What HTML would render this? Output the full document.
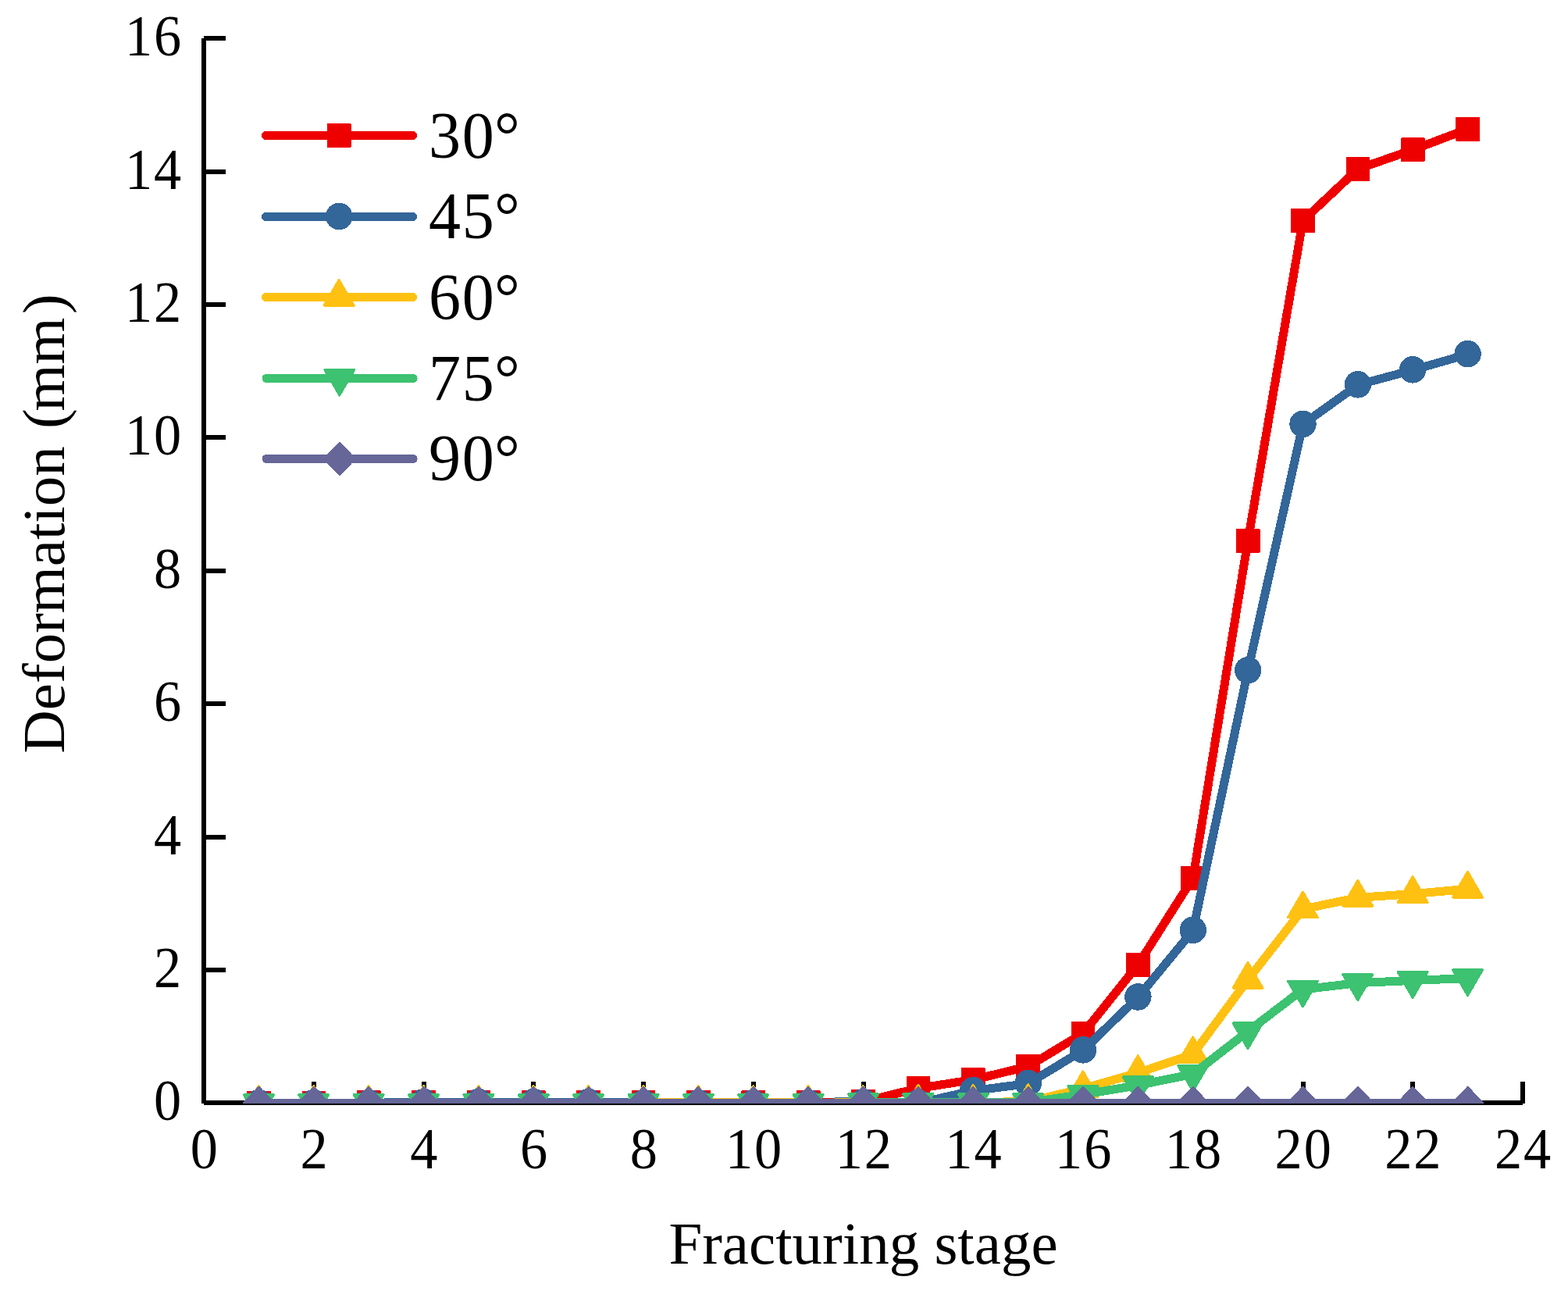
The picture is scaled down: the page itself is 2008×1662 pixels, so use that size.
<!DOCTYPE html>
<html lang="en">
<head>
<meta charset="utf-8">
<title>Deformation vs fracturing stage</title>
<style>
html,body{margin:0;padding:0;background:#fff;}
body{width:2008px;height:1662px;overflow:hidden;}
svg{display:block;}
text{font-family:"Liberation Serif",serif;fill:#000;}
.tick{font-size:74.1px;letter-spacing:1.950px;}
.title{font-size:77px;}
.leg{font-size:85.5px;letter-spacing:1.781px;}
.data{shape-rendering:crispEdges;}
</style>
</head>
<body>
<svg width="2008" height="1662" viewBox="0 0 2008 1662">
<rect x="0" y="0" width="2008" height="1662" fill="#ffffff"/>
<defs><clipPath id="plot"><rect x="258" y="40" width="1700" height="1373"/></clipPath></defs>

<g stroke="#000" stroke-width="6" fill="none" stroke-linecap="butt" shape-rendering="crispEdges">
<line x1="261" y1="49" x2="261" y2="1413"/>
<line x1="261" y1="1412" x2="1950" y2="1412"/>
<line x1="261" y1="1242" x2="289" y2="1242"/>
<line x1="261" y1="1072" x2="289" y2="1072"/>
<line x1="261" y1="901" x2="289" y2="901"/>
<line x1="261" y1="731" x2="289" y2="731"/>
<line x1="261" y1="560" x2="289" y2="560"/>
<line x1="261" y1="390" x2="289" y2="390"/>
<line x1="261" y1="220" x2="289" y2="220"/>
<line x1="261" y1="49" x2="289" y2="49"/>
<line x1="402" y1="1412" x2="402" y2="1385"/>
<line x1="543" y1="1412" x2="543" y2="1385"/>
<line x1="683" y1="1412" x2="683" y2="1385"/>
<line x1="824" y1="1412" x2="824" y2="1385"/>
<line x1="965" y1="1412" x2="965" y2="1385"/>
<line x1="1106" y1="1412" x2="1106" y2="1385"/>
<line x1="1246" y1="1412" x2="1246" y2="1385"/>
<line x1="1387" y1="1412" x2="1387" y2="1385"/>
<line x1="1528" y1="1412" x2="1528" y2="1385"/>
<line x1="1669" y1="1412" x2="1669" y2="1385"/>
<line x1="1809" y1="1412" x2="1809" y2="1385"/>
<line x1="1950" y1="1413" x2="1950" y2="1385"/>
</g>
<g class="tick" text-anchor="end">
<text transform="translate(234.0,1434.3) scale(0.95,1)">0</text>
<text transform="translate(234.0,1263.9) scale(0.95,1)">2</text>
<text transform="translate(234.0,1093.5) scale(0.95,1)">4</text>
<text transform="translate(234.0,923.1) scale(0.95,1)">6</text>
<text transform="translate(234.0,752.7) scale(0.95,1)">8</text>
<text transform="translate(234.0,582.3) scale(0.95,1)">10</text>
<text transform="translate(234.0,411.9) scale(0.95,1)">12</text>
<text transform="translate(234.0,241.5) scale(0.95,1)">14</text>
<text transform="translate(234.0,71.1) scale(0.95,1)">16</text>
</g>
<g class="tick" text-anchor="middle">
<text transform="translate(262.23,1496) scale(0.95,1)">0</text>
<text transform="translate(402.97,1496) scale(0.95,1)">2</text>
<text transform="translate(543.71,1496) scale(0.95,1)">4</text>
<text transform="translate(684.45,1496) scale(0.95,1)">6</text>
<text transform="translate(825.19,1496) scale(0.95,1)">8</text>
<text transform="translate(965.93,1496) scale(0.95,1)">10</text>
<text transform="translate(1106.67,1496) scale(0.95,1)">12</text>
<text transform="translate(1247.41,1496) scale(0.95,1)">14</text>
<text transform="translate(1388.15,1496) scale(0.95,1)">16</text>
<text transform="translate(1528.89,1496) scale(0.95,1)">18</text>
<text transform="translate(1669.63,1496) scale(0.95,1)">20</text>
<text transform="translate(1810.37,1496) scale(0.95,1)">22</text>
<text transform="translate(1951.11,1496) scale(0.95,1)">24</text>
</g>
<text class="title" x="1105.5" y="1618" text-anchor="middle">Fracturing stage</text>
<text class="title" transform="translate(82.2,670.6) rotate(-90)" text-anchor="middle" dx="0 0 0 0 0 0 0 0 0 0 0 0 3 -3 0 4.5">Deformation (mm)</text>
<g class="data" clip-path="url(#plot)">
<polyline points="331.5,1412.5 401.8,1412.5 472.2,1412.5 542.6,1412.5 613.0,1412.5 683.3,1412.5 753.7,1412.5 824.1,1412.5 894.4,1412.5 964.8,1412.5 1035.2,1412.5 1052.8,1412.5 1053.5,1411.5 1105.5,1410.5 1175.9,1393.5 1246.3,1382.5 1316.7,1365.5 1387.0,1323.1 1457.4,1235.2 1527.8,1124.1 1598.1,692.4 1668.5,282.6 1738.9,216.4 1809.2,191.8 1879.6,165.3" fill="none" stroke="#ee0000" stroke-width="11" stroke-linejoin="round" stroke-linecap="round"/>
<rect x="317.1" y="1398.1" width="28.7" height="28.8" fill="#ee0000" stroke="#ee0000" stroke-width="2.0" stroke-linejoin="round"/>
<rect x="387.5" y="1398.1" width="28.7" height="28.8" fill="#ee0000" stroke="#ee0000" stroke-width="2.0" stroke-linejoin="round"/>
<rect x="457.9" y="1397.1" width="28.7" height="28.8" fill="#ee0000" stroke="#ee0000" stroke-width="2.0" stroke-linejoin="round"/>
<rect x="528.2" y="1397.1" width="28.7" height="28.8" fill="#ee0000" stroke="#ee0000" stroke-width="2.0" stroke-linejoin="round"/>
<rect x="598.6" y="1397.1" width="28.7" height="28.8" fill="#ee0000" stroke="#ee0000" stroke-width="2.0" stroke-linejoin="round"/>
<rect x="669.0" y="1397.1" width="28.7" height="28.8" fill="#ee0000" stroke="#ee0000" stroke-width="2.0" stroke-linejoin="round"/>
<rect x="739.3" y="1397.1" width="28.7" height="28.8" fill="#ee0000" stroke="#ee0000" stroke-width="2.0" stroke-linejoin="round"/>
<rect x="809.7" y="1397.1" width="28.7" height="28.8" fill="#ee0000" stroke="#ee0000" stroke-width="2.0" stroke-linejoin="round"/>
<rect x="880.1" y="1397.1" width="28.7" height="28.8" fill="#ee0000" stroke="#ee0000" stroke-width="2.0" stroke-linejoin="round"/>
<rect x="950.4" y="1397.1" width="28.7" height="28.8" fill="#ee0000" stroke="#ee0000" stroke-width="2.0" stroke-linejoin="round"/>
<rect x="1020.8" y="1397.1" width="28.7" height="28.8" fill="#ee0000" stroke="#ee0000" stroke-width="2.0" stroke-linejoin="round"/>
<rect x="1091.2" y="1396.1" width="28.7" height="28.8" fill="#ee0000" stroke="#ee0000" stroke-width="2.0" stroke-linejoin="round"/>
<rect x="1161.6" y="1379.1" width="28.7" height="28.8" fill="#ee0000" stroke="#ee0000" stroke-width="2.0" stroke-linejoin="round"/>
<rect x="1231.9" y="1368.1" width="28.7" height="28.8" fill="#ee0000" stroke="#ee0000" stroke-width="2.0" stroke-linejoin="round"/>
<rect x="1302.3" y="1351.1" width="28.7" height="28.8" fill="#ee0000" stroke="#ee0000" stroke-width="2.0" stroke-linejoin="round"/>
<rect x="1372.7" y="1308.7" width="28.7" height="28.8" fill="#ee0000" stroke="#ee0000" stroke-width="2.0" stroke-linejoin="round"/>
<rect x="1443.0" y="1220.8" width="28.7" height="28.8" fill="#ee0000" stroke="#ee0000" stroke-width="2.0" stroke-linejoin="round"/>
<rect x="1513.4" y="1109.7" width="28.7" height="28.8" fill="#ee0000" stroke="#ee0000" stroke-width="2.0" stroke-linejoin="round"/>
<rect x="1583.8" y="678.0" width="28.7" height="28.8" fill="#ee0000" stroke="#ee0000" stroke-width="2.0" stroke-linejoin="round"/>
<rect x="1654.2" y="268.2" width="28.7" height="28.8" fill="#ee0000" stroke="#ee0000" stroke-width="2.0" stroke-linejoin="round"/>
<rect x="1724.5" y="202.0" width="28.7" height="28.8" fill="#ee0000" stroke="#ee0000" stroke-width="2.0" stroke-linejoin="round"/>
<rect x="1794.9" y="177.4" width="28.7" height="28.8" fill="#ee0000" stroke="#ee0000" stroke-width="2.0" stroke-linejoin="round"/>
<rect x="1865.3" y="150.9" width="28.7" height="28.8" fill="#ee0000" stroke="#ee0000" stroke-width="2.0" stroke-linejoin="round"/>
<polyline points="331.5,1412.5 401.8,1412.5 472.2,1412.5 493.3,1412.5 494.0,1411.5 542.6,1411.5 613.0,1411.5 683.3,1411.5 753.7,1411.5 802.9,1411.5 803.7,1412.5 824.1,1412.5 894.4,1412.5 964.8,1412.5 1035.2,1412.5 1070.4,1412.5 1071.1,1410.5 1105.5,1410.5 1106.2,1411.5 1175.9,1412.5 1246.3,1396.6 1316.7,1387.5 1387.0,1344.8 1457.4,1276.9 1527.8,1191.4 1598.1,858.6 1668.5,543.3 1738.9,492.8 1809.2,473.8 1879.6,453.6" fill="none" stroke="#336699" stroke-width="11" stroke-linejoin="round" stroke-linecap="round"/>
<ellipse cx="331.5" cy="1412.0" rx="17.2" ry="17.3" fill="#336699"/>
<ellipse cx="401.8" cy="1412.0" rx="17.2" ry="17.3" fill="#336699"/>
<ellipse cx="472.2" cy="1412.0" rx="17.2" ry="17.3" fill="#336699"/>
<ellipse cx="542.6" cy="1411.0" rx="17.2" ry="17.3" fill="#336699"/>
<ellipse cx="613.0" cy="1411.0" rx="17.2" ry="17.3" fill="#336699"/>
<ellipse cx="683.3" cy="1411.0" rx="17.2" ry="17.3" fill="#336699"/>
<ellipse cx="753.7" cy="1411.0" rx="17.2" ry="17.3" fill="#336699"/>
<ellipse cx="824.1" cy="1412.0" rx="17.2" ry="17.3" fill="#336699"/>
<ellipse cx="894.4" cy="1412.0" rx="17.2" ry="17.3" fill="#336699"/>
<ellipse cx="964.8" cy="1412.0" rx="17.2" ry="17.3" fill="#336699"/>
<ellipse cx="1035.2" cy="1412.0" rx="17.2" ry="17.3" fill="#336699"/>
<ellipse cx="1105.5" cy="1411.0" rx="17.2" ry="17.3" fill="#336699"/>
<ellipse cx="1175.9" cy="1412.0" rx="17.2" ry="17.3" fill="#336699"/>
<ellipse cx="1246.3" cy="1396.1" rx="17.2" ry="17.3" fill="#336699"/>
<ellipse cx="1316.7" cy="1387.0" rx="17.2" ry="17.3" fill="#336699"/>
<ellipse cx="1387.0" cy="1344.3" rx="17.2" ry="17.3" fill="#336699"/>
<ellipse cx="1457.4" cy="1276.4" rx="17.2" ry="17.3" fill="#336699"/>
<ellipse cx="1527.8" cy="1190.9" rx="17.2" ry="17.3" fill="#336699"/>
<ellipse cx="1598.1" cy="858.1" rx="17.2" ry="17.3" fill="#336699"/>
<ellipse cx="1668.5" cy="542.8" rx="17.2" ry="17.3" fill="#336699"/>
<ellipse cx="1738.9" cy="492.3" rx="17.2" ry="17.3" fill="#336699"/>
<ellipse cx="1809.2" cy="473.3" rx="17.2" ry="17.3" fill="#336699"/>
<ellipse cx="1879.6" cy="453.1" rx="17.2" ry="17.3" fill="#336699"/>
<polyline points="331.5,1412.5 401.8,1412.5 472.2,1412.5 542.6,1412.5 613.0,1412.5 683.3,1412.5 753.7,1412.5 824.1,1412.5 838.1,1412.5 838.8,1411.5 894.4,1411.5 964.8,1411.5 1017.6,1411.5 1018.3,1412.5 1035.2,1412.5 1070.4,1412.5 1071.1,1411.5 1105.5,1411.5 1175.9,1411.5 1246.3,1411.5 1316.7,1410.6 1387.0,1393.9 1457.4,1373.8 1527.8,1349.8 1598.1,1254.4 1668.5,1164.1 1738.9,1149.4 1809.2,1144.6 1879.6,1138.3" fill="none" stroke="#fec112" stroke-width="11" stroke-linejoin="round" stroke-linecap="round"/>
<polygon points="331.4,1390.5 350.4,1423.2 312.4,1423.2" fill="#fec112" stroke="#fec112" stroke-width="3.0" stroke-linejoin="round"/>
<polygon points="401.7,1390.5 420.7,1423.2 382.7,1423.2" fill="#fec112" stroke="#fec112" stroke-width="3.0" stroke-linejoin="round"/>
<polygon points="472.1,1390.5 491.1,1423.2 453.1,1423.2" fill="#fec112" stroke="#fec112" stroke-width="3.0" stroke-linejoin="round"/>
<polygon points="542.5,1390.5 561.5,1423.2 523.5,1423.2" fill="#fec112" stroke="#fec112" stroke-width="3.0" stroke-linejoin="round"/>
<polygon points="612.9,1390.5 631.9,1423.2 593.9,1423.2" fill="#fec112" stroke="#fec112" stroke-width="3.0" stroke-linejoin="round"/>
<polygon points="683.2,1390.5 702.2,1423.2 664.2,1423.2" fill="#fec112" stroke="#fec112" stroke-width="3.0" stroke-linejoin="round"/>
<polygon points="753.6,1390.5 772.6,1423.2 734.6,1423.2" fill="#fec112" stroke="#fec112" stroke-width="3.0" stroke-linejoin="round"/>
<polygon points="824.0,1390.5 843.0,1423.2 805.0,1423.2" fill="#fec112" stroke="#fec112" stroke-width="3.0" stroke-linejoin="round"/>
<polygon points="894.3,1390.5 913.3,1423.2 875.3,1423.2" fill="#fec112" stroke="#fec112" stroke-width="3.0" stroke-linejoin="round"/>
<polygon points="964.7,1390.5 983.7,1423.2 945.7,1423.2" fill="#fec112" stroke="#fec112" stroke-width="3.0" stroke-linejoin="round"/>
<polygon points="1035.1,1390.5 1054.1,1423.2 1016.1,1423.2" fill="#fec112" stroke="#fec112" stroke-width="3.0" stroke-linejoin="round"/>
<polygon points="1105.4,1390.5 1124.4,1423.2 1086.4,1423.2" fill="#fec112" stroke="#fec112" stroke-width="3.0" stroke-linejoin="round"/>
<polygon points="1175.8,1389.5 1194.8,1422.2 1156.8,1422.2" fill="#fec112" stroke="#fec112" stroke-width="3.0" stroke-linejoin="round"/>
<polygon points="1246.2,1389.5 1265.2,1422.2 1227.2,1422.2" fill="#fec112" stroke="#fec112" stroke-width="3.0" stroke-linejoin="round"/>
<polygon points="1316.6,1388.6 1335.6,1421.3 1297.6,1421.3" fill="#fec112" stroke="#fec112" stroke-width="3.0" stroke-linejoin="round"/>
<polygon points="1386.9,1371.9 1405.9,1404.6 1367.9,1404.6" fill="#fec112" stroke="#fec112" stroke-width="3.0" stroke-linejoin="round"/>
<polygon points="1457.3,1351.8 1476.3,1384.5 1438.3,1384.5" fill="#fec112" stroke="#fec112" stroke-width="3.0" stroke-linejoin="round"/>
<polygon points="1527.7,1327.8 1546.7,1360.5 1508.7,1360.5" fill="#fec112" stroke="#fec112" stroke-width="3.0" stroke-linejoin="round"/>
<polygon points="1598.0,1232.4 1617.0,1265.1 1579.0,1265.1" fill="#fec112" stroke="#fec112" stroke-width="3.0" stroke-linejoin="round"/>
<polygon points="1668.4,1142.1 1687.4,1174.8 1649.4,1174.8" fill="#fec112" stroke="#fec112" stroke-width="3.0" stroke-linejoin="round"/>
<polygon points="1738.8,1127.4 1757.8,1160.1 1719.8,1160.1" fill="#fec112" stroke="#fec112" stroke-width="3.0" stroke-linejoin="round"/>
<polygon points="1809.1,1122.6 1828.1,1155.3 1790.1,1155.3" fill="#fec112" stroke="#fec112" stroke-width="3.0" stroke-linejoin="round"/>
<polygon points="1879.5,1116.3 1898.5,1149.0 1860.5,1149.0" fill="#fec112" stroke="#fec112" stroke-width="3.0" stroke-linejoin="round"/>
<polyline points="331.5,1412.5 401.8,1412.5 472.2,1412.5 542.6,1412.5 613.0,1412.5 683.3,1412.5 753.7,1412.5 824.1,1412.5 894.4,1412.5 964.8,1412.5 1035.2,1412.5 1104.8,1412.5 1105.5,1411.5 1175.9,1411.5 1246.3,1411.5 1316.7,1411.5 1387.0,1401.5 1457.4,1389.6 1527.8,1375.2 1598.1,1320.6 1668.5,1266.9 1738.9,1258.6 1809.2,1255.4 1879.6,1252.6" fill="none" stroke="#3cc270" stroke-width="11" stroke-linejoin="round" stroke-linecap="round"/>
<polygon points="331.4,1434.5 350.4,1401.8 312.4,1401.8" fill="#3cc270" stroke="#3cc270" stroke-width="3.0" stroke-linejoin="round"/>
<polygon points="401.7,1434.5 420.7,1401.8 382.7,1401.8" fill="#3cc270" stroke="#3cc270" stroke-width="3.0" stroke-linejoin="round"/>
<polygon points="472.1,1434.5 491.1,1401.8 453.1,1401.8" fill="#3cc270" stroke="#3cc270" stroke-width="3.0" stroke-linejoin="round"/>
<polygon points="542.5,1434.5 561.5,1401.8 523.5,1401.8" fill="#3cc270" stroke="#3cc270" stroke-width="3.0" stroke-linejoin="round"/>
<polygon points="612.9,1434.5 631.9,1401.8 593.9,1401.8" fill="#3cc270" stroke="#3cc270" stroke-width="3.0" stroke-linejoin="round"/>
<polygon points="683.2,1434.5 702.2,1401.8 664.2,1401.8" fill="#3cc270" stroke="#3cc270" stroke-width="3.0" stroke-linejoin="round"/>
<polygon points="753.6,1434.5 772.6,1401.8 734.6,1401.8" fill="#3cc270" stroke="#3cc270" stroke-width="3.0" stroke-linejoin="round"/>
<polygon points="824.0,1434.5 843.0,1401.8 805.0,1401.8" fill="#3cc270" stroke="#3cc270" stroke-width="3.0" stroke-linejoin="round"/>
<polygon points="894.3,1434.5 913.3,1401.8 875.3,1401.8" fill="#3cc270" stroke="#3cc270" stroke-width="3.0" stroke-linejoin="round"/>
<polygon points="964.7,1434.5 983.7,1401.8 945.7,1401.8" fill="#3cc270" stroke="#3cc270" stroke-width="3.0" stroke-linejoin="round"/>
<polygon points="1035.1,1434.5 1054.1,1401.8 1016.1,1401.8" fill="#3cc270" stroke="#3cc270" stroke-width="3.0" stroke-linejoin="round"/>
<polygon points="1105.4,1433.5 1124.4,1400.8 1086.4,1400.8" fill="#3cc270" stroke="#3cc270" stroke-width="3.0" stroke-linejoin="round"/>
<polygon points="1175.8,1433.5 1194.8,1400.8 1156.8,1400.8" fill="#3cc270" stroke="#3cc270" stroke-width="3.0" stroke-linejoin="round"/>
<polygon points="1246.2,1433.5 1265.2,1400.8 1227.2,1400.8" fill="#3cc270" stroke="#3cc270" stroke-width="3.0" stroke-linejoin="round"/>
<polygon points="1316.6,1433.5 1335.6,1400.8 1297.6,1400.8" fill="#3cc270" stroke="#3cc270" stroke-width="3.0" stroke-linejoin="round"/>
<polygon points="1386.9,1423.5 1405.9,1390.8 1367.9,1390.8" fill="#3cc270" stroke="#3cc270" stroke-width="3.0" stroke-linejoin="round"/>
<polygon points="1457.3,1411.6 1476.3,1378.9 1438.3,1378.9" fill="#3cc270" stroke="#3cc270" stroke-width="3.0" stroke-linejoin="round"/>
<polygon points="1527.7,1397.2 1546.7,1364.5 1508.7,1364.5" fill="#3cc270" stroke="#3cc270" stroke-width="3.0" stroke-linejoin="round"/>
<polygon points="1598.0,1342.6 1617.0,1309.9 1579.0,1309.9" fill="#3cc270" stroke="#3cc270" stroke-width="3.0" stroke-linejoin="round"/>
<polygon points="1668.4,1288.9 1687.4,1256.2 1649.4,1256.2" fill="#3cc270" stroke="#3cc270" stroke-width="3.0" stroke-linejoin="round"/>
<polygon points="1738.8,1280.6 1757.8,1247.9 1719.8,1247.9" fill="#3cc270" stroke="#3cc270" stroke-width="3.0" stroke-linejoin="round"/>
<polygon points="1809.1,1277.4 1828.1,1244.7 1790.1,1244.7" fill="#3cc270" stroke="#3cc270" stroke-width="3.0" stroke-linejoin="round"/>
<polygon points="1879.5,1274.6 1898.5,1241.9 1860.5,1241.9" fill="#3cc270" stroke="#3cc270" stroke-width="3.0" stroke-linejoin="round"/>
<polyline points="331.5,1412.5 401.8,1412.5 472.2,1412.5 542.6,1412.5 613.0,1412.5 683.3,1412.5 753.7,1412.5 824.1,1412.5 894.4,1412.5 964.8,1412.5 1035.2,1412.5 1105.5,1412.5 1175.9,1412.5 1246.3,1412.5 1316.7,1412.5 1387.0,1412.5 1457.4,1412.5 1527.8,1412.5 1598.1,1412.5 1668.5,1412.5 1738.9,1412.5 1809.2,1412.5 1879.6,1412.5" fill="none" stroke="#666699" stroke-width="11" stroke-linejoin="round" stroke-linecap="round"/>
<polygon points="331.5,1392.5 350.8,1412.5 331.5,1432.5 312.2,1412.5" fill="#666699" stroke="#666699" stroke-width="3.0" stroke-linejoin="round"/>
<polygon points="401.8,1392.5 421.1,1412.5 401.8,1432.5 382.5,1412.5" fill="#666699" stroke="#666699" stroke-width="3.0" stroke-linejoin="round"/>
<polygon points="472.2,1392.5 491.5,1412.5 472.2,1432.5 452.9,1412.5" fill="#666699" stroke="#666699" stroke-width="3.0" stroke-linejoin="round"/>
<polygon points="542.6,1392.5 561.9,1412.5 542.6,1432.5 523.3,1412.5" fill="#666699" stroke="#666699" stroke-width="3.0" stroke-linejoin="round"/>
<polygon points="613.0,1392.5 632.2,1412.5 613.0,1432.5 593.7,1412.5" fill="#666699" stroke="#666699" stroke-width="3.0" stroke-linejoin="round"/>
<polygon points="683.3,1392.5 702.6,1412.5 683.3,1432.5 664.0,1412.5" fill="#666699" stroke="#666699" stroke-width="3.0" stroke-linejoin="round"/>
<polygon points="753.7,1392.5 773.0,1412.5 753.7,1432.5 734.4,1412.5" fill="#666699" stroke="#666699" stroke-width="3.0" stroke-linejoin="round"/>
<polygon points="824.1,1392.5 843.4,1412.5 824.1,1432.5 804.8,1412.5" fill="#666699" stroke="#666699" stroke-width="3.0" stroke-linejoin="round"/>
<polygon points="894.4,1392.5 913.7,1412.5 894.4,1432.5 875.1,1412.5" fill="#666699" stroke="#666699" stroke-width="3.0" stroke-linejoin="round"/>
<polygon points="964.8,1392.5 984.1,1412.5 964.8,1432.5 945.5,1412.5" fill="#666699" stroke="#666699" stroke-width="3.0" stroke-linejoin="round"/>
<polygon points="1035.2,1392.5 1054.5,1412.5 1035.2,1432.5 1015.9,1412.5" fill="#666699" stroke="#666699" stroke-width="3.0" stroke-linejoin="round"/>
<polygon points="1105.5,1392.5 1124.8,1412.5 1105.5,1432.5 1086.2,1412.5" fill="#666699" stroke="#666699" stroke-width="3.0" stroke-linejoin="round"/>
<polygon points="1175.9,1392.5 1195.2,1412.5 1175.9,1432.5 1156.6,1412.5" fill="#666699" stroke="#666699" stroke-width="3.0" stroke-linejoin="round"/>
<polygon points="1246.3,1392.5 1265.6,1412.5 1246.3,1432.5 1227.0,1412.5" fill="#666699" stroke="#666699" stroke-width="3.0" stroke-linejoin="round"/>
<polygon points="1316.7,1392.5 1336.0,1412.5 1316.7,1432.5 1297.4,1412.5" fill="#666699" stroke="#666699" stroke-width="3.0" stroke-linejoin="round"/>
<polygon points="1387.0,1392.5 1406.3,1412.5 1387.0,1432.5 1367.7,1412.5" fill="#666699" stroke="#666699" stroke-width="3.0" stroke-linejoin="round"/>
<polygon points="1457.4,1392.5 1476.7,1412.5 1457.4,1432.5 1438.1,1412.5" fill="#666699" stroke="#666699" stroke-width="3.0" stroke-linejoin="round"/>
<polygon points="1527.8,1392.5 1547.1,1412.5 1527.8,1432.5 1508.5,1412.5" fill="#666699" stroke="#666699" stroke-width="3.0" stroke-linejoin="round"/>
<polygon points="1598.1,1392.5 1617.4,1412.5 1598.1,1432.5 1578.8,1412.5" fill="#666699" stroke="#666699" stroke-width="3.0" stroke-linejoin="round"/>
<polygon points="1668.5,1392.5 1687.8,1412.5 1668.5,1432.5 1649.2,1412.5" fill="#666699" stroke="#666699" stroke-width="3.0" stroke-linejoin="round"/>
<polygon points="1738.9,1392.5 1758.2,1412.5 1738.9,1432.5 1719.6,1412.5" fill="#666699" stroke="#666699" stroke-width="3.0" stroke-linejoin="round"/>
<polygon points="1809.2,1392.5 1828.5,1412.5 1809.2,1432.5 1789.9,1412.5" fill="#666699" stroke="#666699" stroke-width="3.0" stroke-linejoin="round"/>
<polygon points="1879.6,1392.5 1898.9,1412.5 1879.6,1432.5 1860.3,1412.5" fill="#666699" stroke="#666699" stroke-width="3.0" stroke-linejoin="round"/>
</g>
<g class="data">
<line x1="340.3" y1="173.5" x2="528.5" y2="173.5" stroke="#ee0000" stroke-width="11" stroke-linecap="round"/>
<rect x="419.8" y="159.1" width="28.7" height="28.8" fill="#ee0000" stroke="#ee0000" stroke-width="2.0" stroke-linejoin="round"/>
<line x1="340.3" y1="277.5" x2="528.5" y2="277.5" stroke="#336699" stroke-width="11" stroke-linecap="round"/>
<ellipse cx="434.2" cy="277.0" rx="17.2" ry="17.3" fill="#336699"/>
<line x1="340.3" y1="380.5" x2="528.5" y2="380.5" stroke="#fec112" stroke-width="11" stroke-linecap="round"/>
<polygon points="434.1,358.5 453.1,391.2 415.1,391.2" fill="#fec112" stroke="#fec112" stroke-width="3.0" stroke-linejoin="round"/>
<line x1="341.0" y1="484.5" x2="529.2" y2="484.5" stroke="#3cc270" stroke-width="11" stroke-linecap="round"/>
<polygon points="434.8,506.0 453.8,473.3 415.8,473.3" fill="#3cc270" stroke="#3cc270" stroke-width="3.0" stroke-linejoin="round"/>
<line x1="341.0" y1="587.5" x2="529.2" y2="587.5" stroke="#666699" stroke-width="11" stroke-linecap="round"/>
<polygon points="434.9,567.5 454.2,587.5 434.9,607.5 415.6,587.5" fill="#666699" stroke="#666699" stroke-width="3.0" stroke-linejoin="round"/>
</g>
<text class="leg" transform="translate(549.0,201.6) scale(0.96,1)" dx="0 0 -1.5">30°</text>
<text class="leg" transform="translate(549.0,305.0) scale(0.96,1)" dx="0 0 -1.5">45°</text>
<text class="leg" transform="translate(549.0,408.6) scale(0.96,1)" dx="0 0 -1.5">60°</text>
<text class="leg" transform="translate(549.0,512.6) scale(0.96,1)" dx="0 0 -1.5">75°</text>
<text class="leg" transform="translate(549.0,614.8) scale(0.96,1)" dx="0 0 -1.5">90°</text>
</svg>
</body>
</html>
